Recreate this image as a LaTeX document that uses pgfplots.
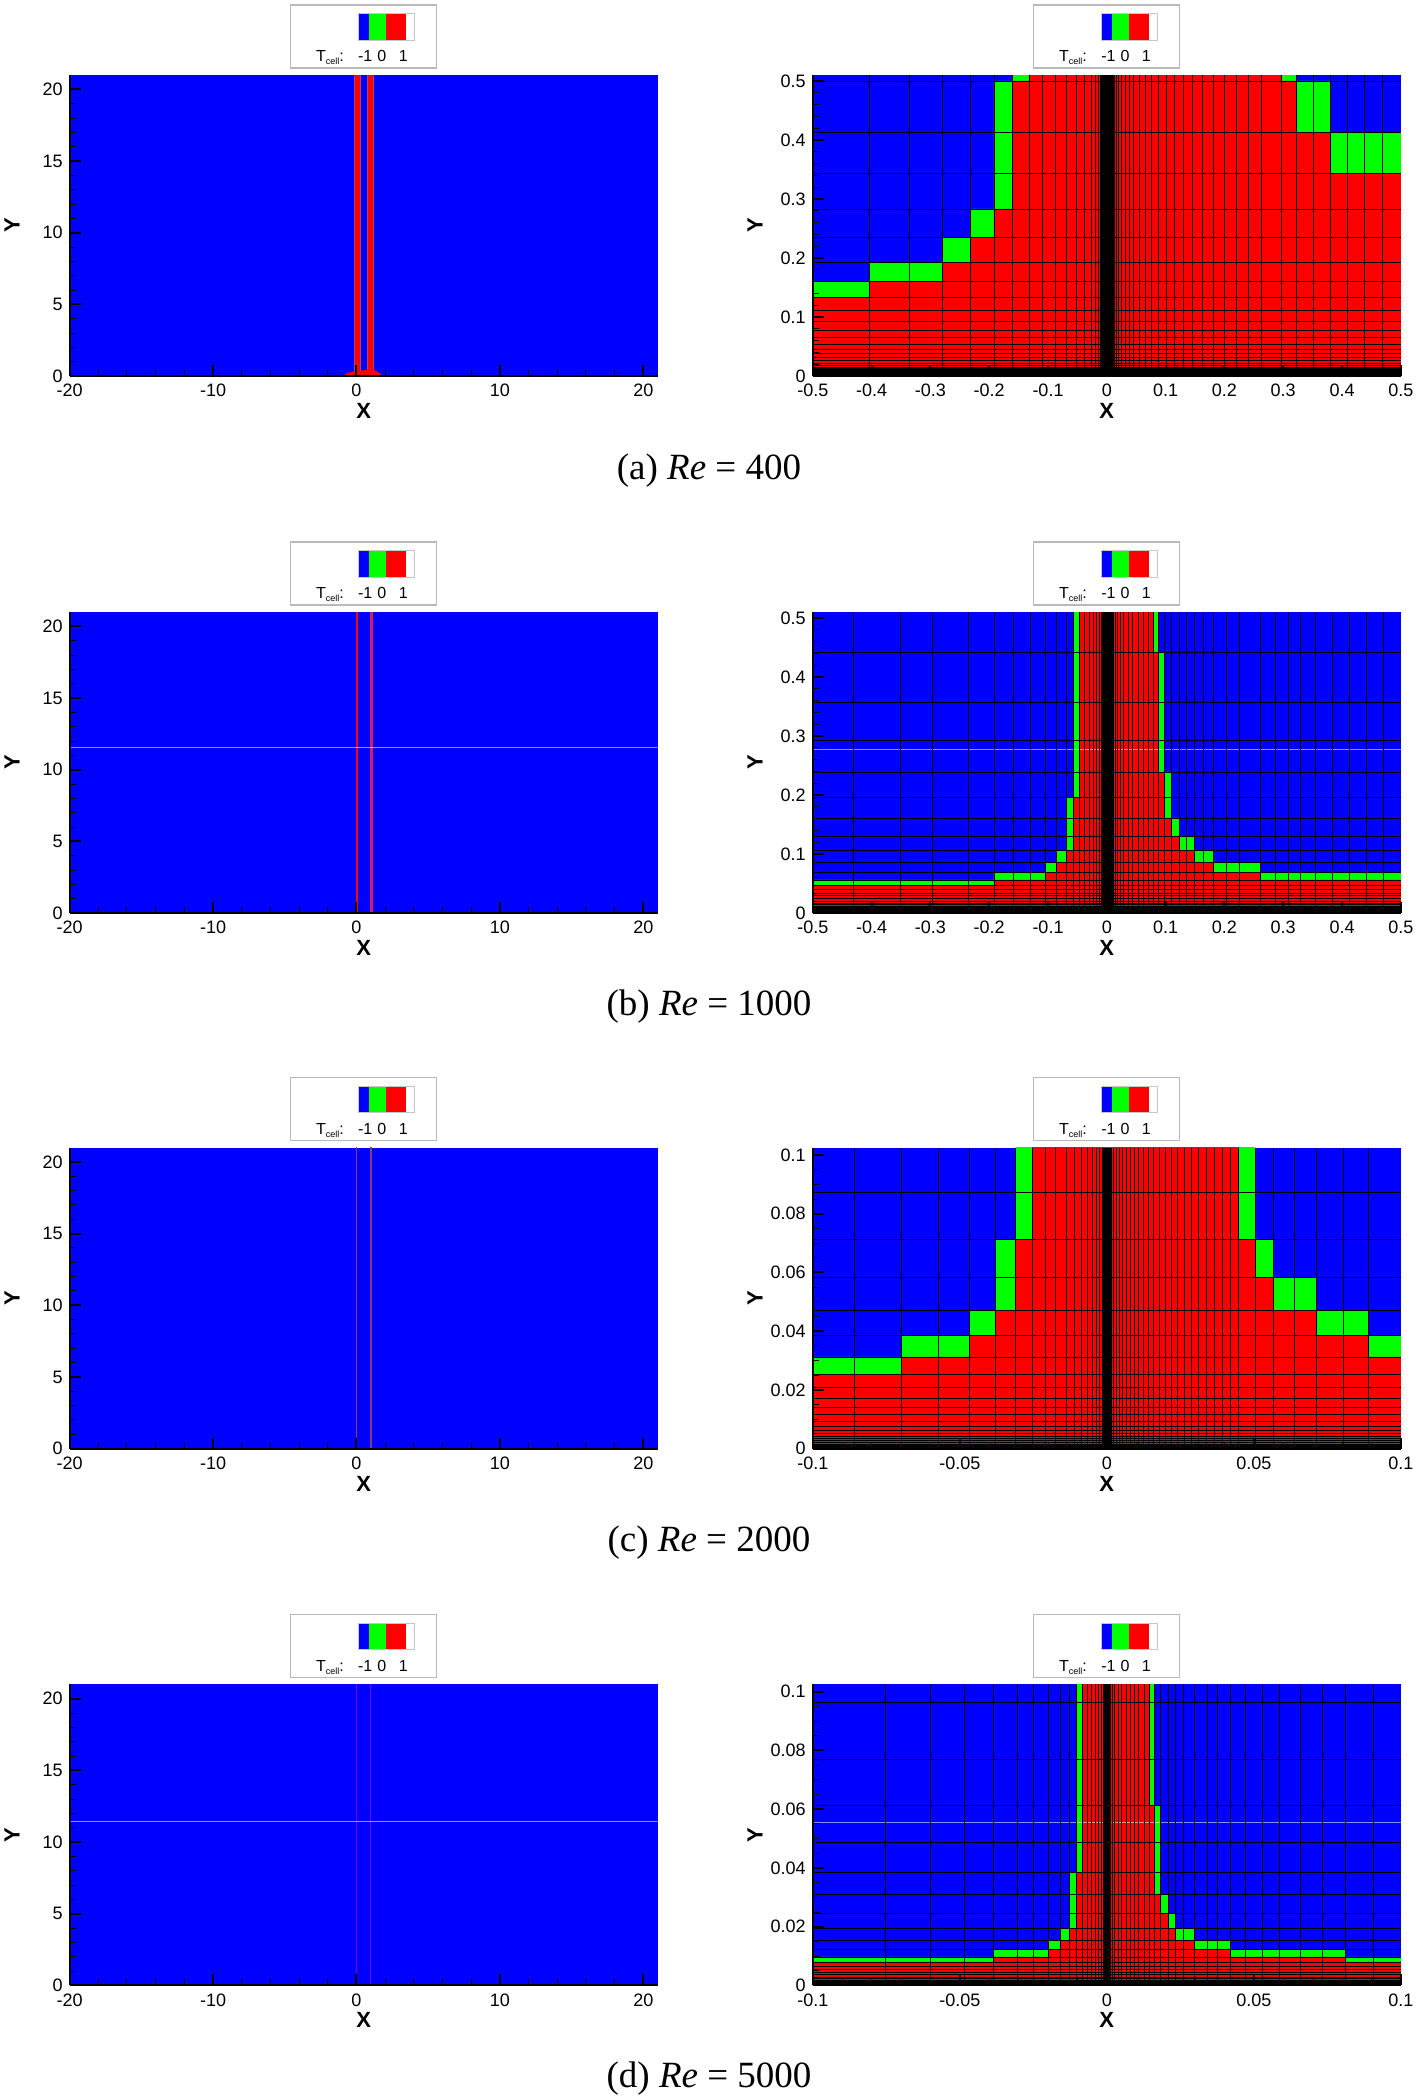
\documentclass[border=0pt]{standalone}
\usepackage{fontspec}
\setmainfont{Liberation Sans}
\newfontfamily\capfont{Liberation Serif}
\usepackage{pgfplots}
\pgfplotsset{compat=1.18}

\definecolor{tblue}{RGB}{0,0,255}
\definecolor{tgreen}{RGB}{0,255,0}
\definecolor{tred}{RGB}{255,0,0}

\pgfplotsset{
  tec/.style={
    scale only axis, width=294pt, height=150.5pt,
    axis on top,
    axis background/.style={fill=tblue},
    axis x line=bottom, axis y line=left,
    axis line style={-, black, line width=1pt},
    tick align=inside,
    major tick length=5.5pt, minor tick length=3pt,
    major tick style={black, line width=1pt},
    minor tick style={black, line width=0.5pt},
    tick label style={font=\fontsize{9}{10}\selectfont},
    xticklabel style={yshift=-0.5pt},
    xlabel=X, ylabel=Y,
    every axis x label/.style={at={(axis description cs:0.5,0)}, anchor=center, yshift=-17.5pt,
      font=\fontsize{11}{12}\selectfont\bfseries},
    every axis y label/.style={at={(axis description cs:-0.098,0.5)}, anchor=center, rotate=90,
      font=\fontsize{11}{12}\selectfont\bfseries},
    extra tick style={grid=major, major grid style={black, line width=0.4pt}, major tick length=0pt},
    extra x tick labels={}, extra y tick labels={},
  },
  tecL/.style={xmin=-20, xmax=21, ymin=0, ymax=21,
    xtick={-20,-10,0,10,20}, xticklabels={-20,-10,0,10,20},
    ytick={0,5,10,15,20}, yticklabels={0,5,10,15,20},
    minor x tick num=4, minor y tick num=4},
  tecA/.style={xmin=-0.5, xmax=0.5, ymin=0, ymax=0.51,
    xtick={-0.5,-0.4,-0.3,-0.2,-0.1,0,0.1,0.2,0.3,0.4,0.5},
    xticklabels={-0.5,-0.4,-0.3,-0.2,-0.1,0,0.1,0.2,0.3,0.4,0.5},
    ytick={0,0.1,0.2,0.3,0.4,0.5}, yticklabels={0,0.1,0.2,0.3,0.4,0.5},
    minor x tick num=4, minor y tick num=4},
  tecC/.style={xmin=-0.1, xmax=0.1, ymin=0, ymax=0.1025,
    xtick={-0.1,-0.05,0,0.05,0.1}, xticklabels={-0.1,-0.05,0,0.05,0.1},
    ytick={0,0.02,0.04,0.06,0.08,0.1}, yticklabels={0,0.02,0.04,0.06,0.08,0.1},
    minor x tick num=4, minor y tick num=3},
}

% legend box: #1 left, #2 top
\newcommand{\tleg}[2]{%
  \begin{scope}[shift={(#1,#2)}]
    \draw[gray!55, line width=0.6pt] (0,0) rectangle (73pt,-31.5pt);
    \fill[tblue] (34pt,-4.2pt) rectangle (39pt,-17.5pt);
    \fill[tgreen] (39pt,-4.2pt) rectangle (47.7pt,-17.5pt);
    \fill[tred] (47.7pt,-4.2pt) rectangle (57.7pt,-17.5pt);
    \draw[gray!45, line width=0.4pt] (34pt,-4.2pt) rectangle (62pt,-17.5pt);
    \node[anchor=base west, inner sep=0pt, font=\fontsize{8}{9}\selectfont] at (12.5pt,-28.3pt)
      {T\raisebox{-0.4ex}{\fontsize{4.5}{5}\selectfont cell}:};
    \node[anchor=base, inner sep=0pt, font=\fontsize{8}{9}\selectfont] at (37.3pt,-28.3pt) {-1};
    \node[anchor=base, inner sep=0pt, font=\fontsize{8}{9}\selectfont] at (45.6pt,-28.3pt) {0};
    \node[anchor=base, inner sep=0pt, font=\fontsize{8}{9}\selectfont] at (56.3pt,-28.3pt) {1};
  \end{scope}}

\newcommand{\tcap}[2]{\node[font=\capfont\fontsize{18.5}{22}\selectfont] at (354.5pt,#1) {#2};}

\begin{document}
\begin{tikzpicture}
\useasboundingbox (0,0) rectangle (709pt,-1050pt);

% ---------------- row a ----------------
\begin{axis}[tec, tecL, at={(34.8pt,-37.5pt)}, anchor=north west]
\addplot[fill=tred, draw={rgb,255:red,170;green,70;blue,110}, line width=0.3pt] coordinates {(-0.12,0) (-0.12,22) (0.3,22) (0.3,0)} -- cycle;
\addplot[fill=tred, draw={rgb,255:red,170;green,70;blue,110}, line width=0.3pt] coordinates {(0.78,0) (0.78,22) (1.2,22) (1.2,0)} -- cycle;
\addplot[fill=tred, draw=none] coordinates {(-0.8,0) (-0.8,0.15) (-0.12,0.35) (1.2,0.45) (1.7,0.15) (1.7,0)} -- cycle;
\end{axis}

\begin{axis}[tec, tecA, at={(406.4pt,-37.5pt)}, anchor=north west,
  extra x ticks={-0.404,-0.335,-0.279,-0.232,-0.192,-0.161,-0.132,-0.109,-0.087,-0.069,-0.052,-0.038,-0.027,-0.019,-0.0135,-0.0105,-0.009,-0.0075,-0.006,-0.0045,-0.003,-0.0015,0,0.0015,0.003,0.0045,0.006,0.0075,0.009,0.011,0.0135,0.0165,0.02,0.025,0.031,0.038,0.046,0.055,0.065,0.076,0.088,0.101,0.115,0.130,0.146,0.163,0.181,0.200,0.220,0.241,0.263,0.297,0.322,0.351,0.380,0.409,0.438,0.469},
  extra y ticks={0.5,0.413,0.343,0.283,0.235,0.193,0.160,0.133,0.111,0.093,0.078,0.065,0.054,0.045,0.038,0.032,0.027,0.022,0.018,0.015,0.0125,0.0105,0.0088,0.0073,0.006,0.005,0.004,0.0032,0.0025,0.0019,0.0014,0.001,0.0006,0.0003}]
\addplot[fill=tgreen, draw=none] coordinates {(-0.5,0) (-0.5,0.160) (-0.404,0.160) (-0.404,0.193) (-0.279,0.193) (-0.279,0.235) (-0.232,0.235) (-0.232,0.283) (-0.192,0.283) (-0.192,0.5) (-0.161,0.5) (-0.161,0.52) (0.322,0.52) (0.322,0.5) (0.380,0.5) (0.380,0.413) (0.5,0.413) (0.5,0)} -- cycle;
\addplot[fill=tred, draw=none] coordinates {(-0.5,0) (-0.5,0.133) (-0.404,0.133) (-0.404,0.160) (-0.279,0.160) (-0.279,0.193) (-0.232,0.193) (-0.232,0.235) (-0.192,0.235) (-0.192,0.283) (-0.161,0.283) (-0.161,0.5) (-0.132,0.5) (-0.132,0.52) (0.297,0.52) (0.297,0.5) (0.322,0.5) (0.322,0.413) (0.380,0.413) (0.380,0.343) (0.5,0.343) (0.5,0)} -- cycle;
\end{axis}

% ---------------- row b ----------------
\begin{axis}[tec, tecL, at={(34.8pt,-306pt)}, anchor=north west]
\addplot[fill=tred, draw=none] coordinates {(-0.06,0) (-0.06,22) (0.13,22) (0.13,0)} -- cycle;
\addplot[fill={rgb,255:red,210;green,30;blue,90}, draw=none] coordinates {(0.95,0) (0.95,22) (1.13,22) (1.13,0)} -- cycle;
\addplot[white, opacity=0.55, line width=0.4pt] coordinates {(-20,11.53) (21,11.53)};
\end{axis}

\begin{axis}[tec, tecA, at={(406.4pt,-306pt)}, anchor=north west,
  extra x ticks={-0.431,-0.351,-0.297,-0.236,-0.192,-0.159,-0.130,-0.105,-0.086,-0.069,-0.057,-0.047,-0.038,-0.030,-0.023,-0.017,-0.0125,-0.009,-0.0075,-0.006,-0.0045,-0.003,-0.0015,0,0.0015,0.003,0.0045,0.006,0.0075,0.009,0.011,0.014,0.018,0.023,0.029,0.036,0.044,0.053,0.062,0.071,0.080,0.088,0.098,0.109,0.123,0.136,0.149,0.165,0.181,0.203,0.225,0.261,0.286,0.308,0.330,0.355,0.384,0.413,0.442,0.471},
  extra y ticks={0.441,0.357,0.292,0.239,0.196,0.161,0.130,0.106,0.085,0.069,0.056,0.047,0.040,0.034,0.029,0.0245,0.0205,0.017,0.014,0.0115,0.0095,0.0078,0.0063,0.005,0.004,0.0031,0.0024,0.0018,0.0013,0.0009,0.0005,0.0002}]
\addplot[fill=tgreen, draw=none] coordinates {(-0.5,0) (-0.5,0.056) (-0.192,0.056) (-0.192,0.069) (-0.105,0.069) (-0.105,0.085) (-0.086,0.085) (-0.086,0.106) (-0.069,0.106) (-0.069,0.196) (-0.057,0.196) (-0.057,0.52) (0.088,0.52) (0.088,0.441) (0.098,0.441) (0.098,0.239) (0.109,0.239) (0.109,0.161) (0.123,0.161) (0.123,0.130) (0.149,0.130) (0.149,0.106) (0.181,0.106) (0.181,0.085) (0.261,0.085) (0.261,0.069) (0.5,0.069) (0.5,0)} -- cycle;
\addplot[fill=tred, draw=none] coordinates {(-0.5,0) (-0.5,0.047) (-0.192,0.047) (-0.192,0.056) (-0.105,0.056) (-0.105,0.069) (-0.086,0.069) (-0.086,0.085) (-0.069,0.085) (-0.069,0.106) (-0.057,0.106) (-0.057,0.196) (-0.047,0.196) (-0.047,0.52) (0.080,0.52) (0.080,0.441) (0.088,0.441) (0.088,0.239) (0.098,0.239) (0.098,0.161) (0.109,0.161) (0.109,0.130) (0.123,0.130) (0.123,0.106) (0.149,0.106) (0.149,0.085) (0.181,0.085) (0.181,0.069) (0.261,0.069) (0.261,0.056) (0.5,0.056) (0.5,0)} -- cycle;
\addplot[white, opacity=0.55, line width=0.4pt] coordinates {(-0.5,0.277) (0.5,0.277)};
\end{axis}

% ---------------- row c ----------------
\begin{axis}[tec, tecL, at={(34.8pt,-573.8pt)}, anchor=north west]
\addplot[fill={rgb,255:red,150;green,50;blue,110}, draw=none] coordinates {(-0.04,0) (-0.04,22) (0.07,22) (0.07,0)} -- cycle;
\addplot[fill={rgb,255:red,130;green,60;blue,130}, draw=none] coordinates {(0.96,0) (0.96,22) (1.06,22) (1.06,0)} -- cycle;
\end{axis}

\begin{axis}[tec, tecC, at={(406.4pt,-573.8pt)}, anchor=north west,
  extra x ticks={-0.0858,-0.0699,-0.0572,-0.0467,-0.0380,-0.0310,-0.0254,-0.0210,-0.0174,-0.0138,-0.0109,-0.0087,-0.0066,-0.0048,-0.0034,-0.0024,-0.0016,-0.0012,-0.0009,-0.0006,-0.0003,0,0.0003,0.0006,0.0009,0.0012,0.0017,0.0024,0.0033,0.0043,0.0054,0.0066,0.0079,0.0093,0.0108,0.0124,0.0141,0.0159,0.0178,0.0198,0.0219,0.0241,0.0264,0.0288,0.0313,0.0339,0.0366,0.0394,0.0421,0.0449,0.0504,0.0568,0.0638,0.0713,0.0804,0.0891},
  extra y ticks={0.0871,0.0712,0.0584,0.0470,0.0384,0.0312,0.0253,0.0208,0.0170,0.0140,0.0115,0.0094,0.0077,0.0063,0.0051,0.0042,0.0034,0.0027,0.0021,0.0016,0.0012,0.0008,0.0005,0.0002}]
\addplot[fill=tgreen, draw=none] coordinates {(-0.1,0) (-0.1,0.0312) (-0.0699,0.0312) (-0.0699,0.0384) (-0.0467,0.0384) (-0.0467,0.0470) (-0.0380,0.0470) (-0.0380,0.0712) (-0.0310,0.0712) (-0.0310,0.11) (0.0504,0.11) (0.0504,0.0712) (0.0568,0.0712) (0.0568,0.0584) (0.0713,0.0584) (0.0713,0.0470) (0.0891,0.0470) (0.0891,0.0384) (0.1,0.0384) (0.1,0)} -- cycle;
\addplot[fill=tred, draw=none] coordinates {(-0.1,0) (-0.1,0.0253) (-0.0699,0.0253) (-0.0699,0.0312) (-0.0467,0.0312) (-0.0467,0.0384) (-0.0380,0.0384) (-0.0380,0.0470) (-0.0310,0.0470) (-0.0310,0.0712) (-0.0254,0.0712) (-0.0254,0.11) (0.0449,0.11) (0.0449,0.0712) (0.0504,0.0712) (0.0504,0.0584) (0.0568,0.0584) (0.0568,0.0470) (0.0713,0.0470) (0.0713,0.0384) (0.0891,0.0384) (0.0891,0.0312) (0.1,0.0312) (0.1,0)} -- cycle;
\end{axis}

% ---------------- row d ----------------
\begin{axis}[tec, tecL, at={(34.8pt,-842.2pt)}, anchor=north west]
\addplot[fill={rgb,255:red,120;green,0;blue,200}, draw=none] coordinates {(-0.03,0) (-0.03,22) (0.04,22) (0.04,0)} -- cycle;
\addplot[fill={rgb,255:red,110;green,10;blue,210}, draw=none] coordinates {(0.97,0) (0.97,22) (1.04,22) (1.04,0)} -- cycle;
\addplot[white, opacity=0.55, line width=0.4pt] coordinates {(-20,11.47) (21,11.47)};
\end{axis}

\begin{axis}[tec, tecC, at={(406.4pt,-842.2pt)}, anchor=north west,
  extra x ticks={-0.0754,-0.0601,-0.0486,-0.0386,-0.0304,-0.0249,-0.0199,-0.0157,-0.0128,-0.0102,-0.0083,-0.0066,-0.0051,-0.0038,-0.0027,-0.0019,-0.0012,-0.0009,-0.0006,-0.0003,0,0.0003,0.0006,0.0009,0.0012,0.0019,0.0026,0.0038,0.0051,0.0065,0.0080,0.0094,0.0109,0.0128,0.0145,0.0162,0.0181,0.0209,0.0233,0.0262,0.0298,0.0341,0.0377,0.0420,0.0471,0.0529,0.0587,0.0659,0.0732,0.0812,0.0906},
  extra y ticks={0.0964,0.0768,0.0614,0.0486,0.0384,0.0311,0.0245,0.0195,0.0153,0.0121,0.0097,0.0080,0.0066,0.0054,0.0044,0.0036,0.0029,0.0023,0.0018,0.0014,0.0010,0.0007,0.0004,0.0002}]
\addplot[fill=tgreen, draw=none] coordinates {(-0.1,0) (-0.1,0.0097) (-0.0386,0.0097) (-0.0386,0.0121) (-0.0199,0.0121) (-0.0199,0.0153) (-0.0157,0.0153) (-0.0157,0.0195) (-0.0128,0.0195) (-0.0128,0.0384) (-0.0102,0.0384) (-0.0102,0.11) (0.0162,0.11) (0.0162,0.0614) (0.0181,0.0614) (0.0181,0.0311) (0.0209,0.0311) (0.0209,0.0245) (0.0233,0.0245) (0.0233,0.0195) (0.0298,0.0195) (0.0298,0.0153) (0.0420,0.0153) (0.0420,0.0121) (0.0812,0.0121) (0.0812,0.0097) (0.1,0.0097) (0.1,0)} -- cycle;
\addplot[fill=tred, draw=none] coordinates {(-0.1,0) (-0.1,0.0080) (-0.0386,0.0080) (-0.0386,0.0097) (-0.0199,0.0097) (-0.0199,0.0121) (-0.0157,0.0121) (-0.0157,0.0153) (-0.0128,0.0153) (-0.0128,0.0195) (-0.0102,0.0195) (-0.0102,0.0384) (-0.0083,0.0384) (-0.0083,0.11) (0.0145,0.11) (0.0145,0.0614) (0.0162,0.0614) (0.0162,0.0311) (0.0181,0.0311) (0.0181,0.0245) (0.0209,0.0245) (0.0209,0.0195) (0.0233,0.0195) (0.0233,0.0153) (0.0298,0.0153) (0.0298,0.0121) (0.0420,0.0121) (0.0420,0.0097) (0.0812,0.0097) (0.0812,0.0080) (0.1,0.0080) (0.1,0)} -- cycle;
\addplot[white, opacity=0.55, line width=0.4pt] coordinates {(-0.1,0.0555) (0.1,0.0555)};
\end{axis}

% legends
\tleg{145.3pt}{-2.5pt}   \tleg{516.9pt}{-2.5pt}
\tleg{145.3pt}{-271pt}   \tleg{516.9pt}{-271pt}
\tleg{145.3pt}{-538.8pt} \tleg{516.9pt}{-538.8pt}
\tleg{145.3pt}{-807.3pt} \tleg{516.9pt}{-807.3pt}

% captions
\tcap{-235.5pt}{(a) \textit{Re} = 400}
\tcap{-503.5pt}{(b) \textit{Re} = 1000}
\tcap{-771.3pt}{(c) \textit{Re} = 2000}
\tcap{-1039.1pt}{(d) \textit{Re} = 5000}
\end{tikzpicture}
\end{document}
